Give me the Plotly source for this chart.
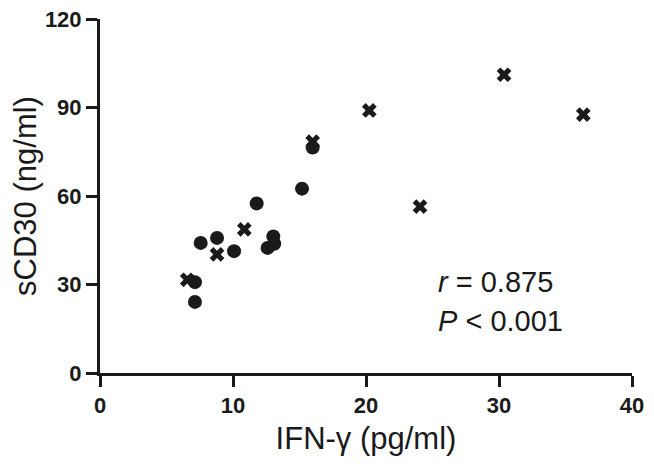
import plotly.graph_objects as go

# Data
circle_x = [7.14, 7.14, 7.57, 8.80, 10.08, 11.78, 12.60, 13.03, 13.10, 15.19, 15.99]
circle_y = [30.8, 24.1, 44.1, 45.8, 41.3, 57.5, 42.4, 46.3, 43.8, 62.5, 76.4]
cross_x = [6.56, 8.80, 10.85, 15.99, 20.25, 24.06, 30.38, 36.34]
cross_y = [31.6, 40.2, 48.7, 78.4, 89.0, 56.4, 101.1, 87.6]
x_ticks = [0, 10, 20, 30, 40]
y_ticks = [0, 30, 60, 90, 120]
stat_lines = ["<i>r</i> = 0.875", "<i>P</i> < 0.001"]

FONT = "Liberation Sans, Arial, Helvetica, sans-serif"
INK = "#1a1a1a"

fig = go.Figure()
fig.add_trace(go.Scatter(
    x=circle_x, y=circle_y, mode="markers",
    marker=dict(symbol="circle", size=14, color=INK, line=dict(width=0)),
    showlegend=False, cliponaxis=False))
fig.add_trace(go.Scatter(
    x=cross_x, y=cross_y, mode="markers",
    marker=dict(symbol="x", size=13, color=INK, line=dict(width=0)),
    showlegend=False, cliponaxis=False))

axis_common = dict(
    showline=True, linewidth=3, linecolor=INK,
    ticks="outside", ticklen=11, tickwidth=3, tickcolor=INK,
    showgrid=False, zeroline=False, automargin=False,
    ticklabeloverflow="allow",
    tickfont=dict(family=FONT, size=22, color=INK, weight="bold"),
)

fig.update_xaxes(
    range=[0, 40], tickvals=x_ticks, ticktext=[str(v) for v in x_ticks],
    title=dict(text="IFN-γ (pg/ml)", font=dict(family=FONT, size=31, color=INK), standoff=10),
    **axis_common)
fig.update_yaxes(
    range=[0, 120], tickvals=y_ticks, ticktext=[str(v) for v in y_ticks],
    title=dict(text="sCD30 (ng/ml)", font=dict(family=FONT, size=31, color=INK), standoff=14),
    **axis_common)

for i, (txt, yp) in enumerate(zip(stat_lines, [0.256, 0.146])):
    fig.add_annotation(
        text=txt, xref="paper", yref="paper", x=0.632, y=yp,
        xanchor="left", yanchor="middle", showarrow=False,
        font=dict(family=FONT, size=29, color=INK))

# page body adds an 8px margin; size/margins compensate so the plot area
# lands at x 100..632, y ~19..373 in the 654x470 window
fig.update_layout(
    width=638, height=454,
    margin=dict(l=92, r=14, t=11, b=89),
    paper_bgcolor="white", plot_bgcolor="white",
    font=dict(family=FONT, color=INK),
)

fig.write_html("out.html")
